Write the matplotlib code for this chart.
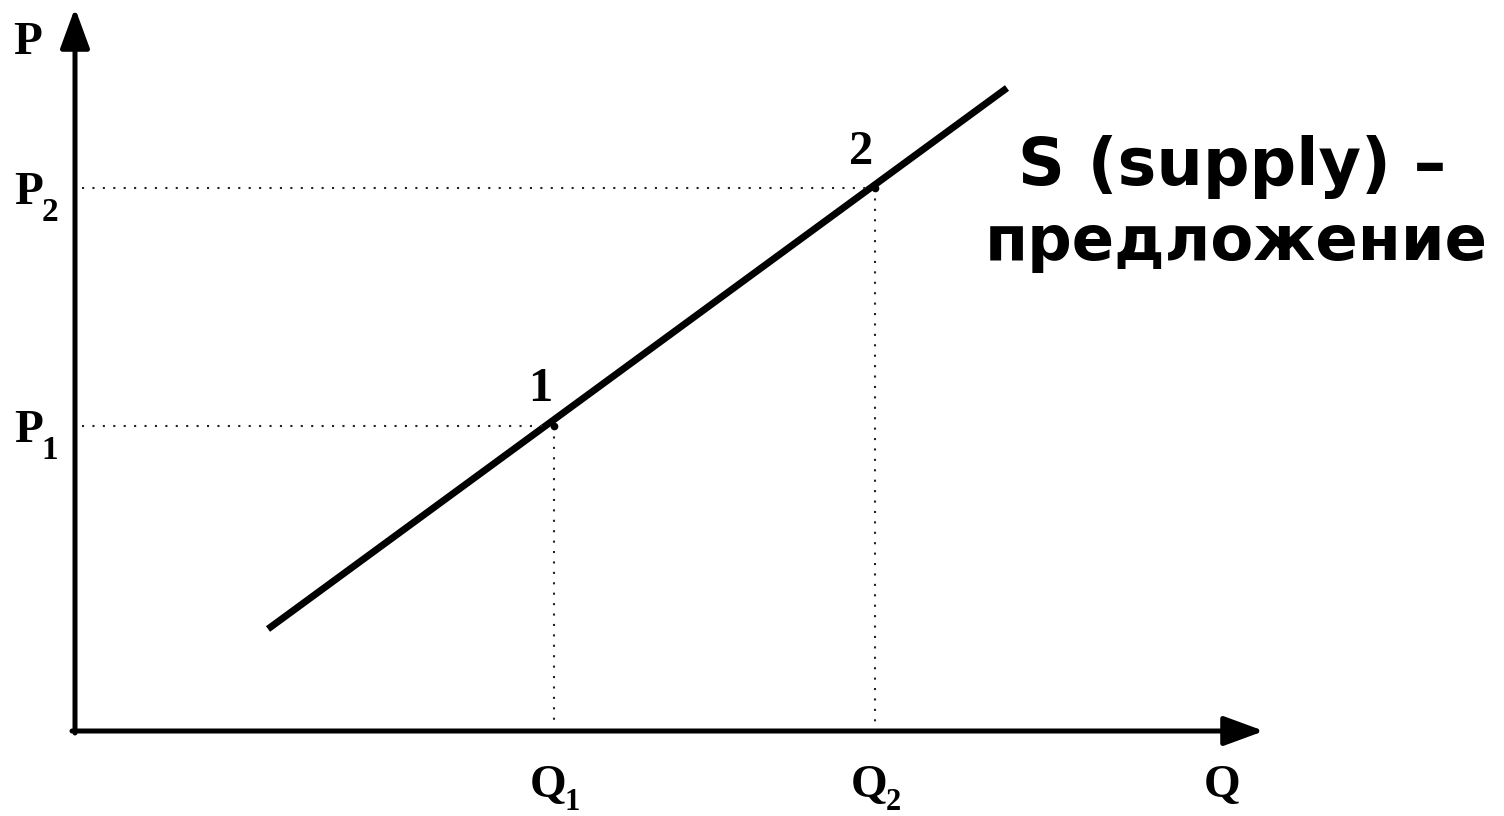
import matplotlib
matplotlib.use("Agg")
import matplotlib.pyplot as plt

# Supply curve diagram, coordinates in "px-like" units with origin at the axes corner
supply_q = [193, 932]
supply_p = [102, 643]

point_names = ["1", "2"]
point_q = [479, 800]
point_p = [305, 543]

q_labels = ["Q", "Q"]
q_subs = ["1", "2"]
p_labels = ["P", "P"]
p_subs = ["1", "2"]

supply_text = ["S (supply) –", "предложение"]

serif = "Liberation Serif"
sans = "DejaVu Sans"

fig = plt.figure(figsize=(15.04, 8.16), dpi=100)
ax = fig.add_axes([0, 0, 1, 1])
ax.set_xlim(-75, 1429)
ax.set_ylim(-85, 731)
ax.axis("off")

# axes with arrows
arrow_style = "-|>,head_length=2.45,head_width=0.9"
ax.annotate("", xy=(1189, 0), xytext=(-3, 0),
            arrowprops=dict(arrowstyle=arrow_style, color="black", lw=3.6,
                            mutation_scale=10, shrinkA=0, shrinkB=0))
ax.annotate("", xy=(0, 723), xytext=(0, -2),
            arrowprops=dict(arrowstyle=arrow_style, color="black", lw=3.6,
                            mutation_scale=10, shrinkA=0, shrinkB=0))

# supply line
ax.plot(supply_q, supply_p, color="black", lw=5, solid_capstyle="butt")

# dotted guides and points
for q, p in zip(point_q, point_p):
    ax.plot([7, q], [p, p], color="#222222", lw=1.5, linestyle=(0, (1, 4)))
    ax.plot([q, q], [p, 9], color="#222222", lw=1.5, linestyle=(0, (1, 4)))
    ax.plot(q, p, "o", color="black", ms=4.5)

# point numbers
ax.text(465, 330, point_names[0], fontfamily=serif, fontweight="bold",
        fontsize=35, ha="center", va="baseline")
ax.text(786, 567, point_names[1], fontfamily=serif, fontweight="bold",
        fontsize=35, ha="center", va="baseline")

# axis titles
ax.text(-47, 677, "P", fontfamily=serif, fontweight="bold", fontsize=34,
        ha="center", va="baseline")
ax.text(1147, -66, "Q", fontfamily=serif, fontweight="bold", fontsize=34,
        ha="center", va="baseline")

# P1, P2
for p, lab, sub in zip(point_p, p_labels, p_subs):
    ax.text(-46, p - 16, lab, fontfamily=serif, fontweight="bold", fontsize=34,
            ha="center", va="baseline")
    ax.text(-25, p - 33, sub, fontfamily=serif, fontweight="bold", fontsize=24,
            ha="center", va="baseline")

# Q1, Q2
for q, lab, sub in zip(point_q, q_labels, q_subs):
    ax.text(q - 6, -66, lab, fontfamily=serif, fontweight="bold", fontsize=34,
            ha="center", va="baseline")
    ax.text(q + 18, -79, sub, fontfamily=serif, fontweight="bold", fontsize=22,
            ha="center", va="baseline")

# supply caption
ax.text(1157, 546, supply_text[0], fontfamily=sans, fontweight="bold",
        fontsize=47, ha="center", va="baseline")
ax.text(1161, 471, supply_text[1], fontfamily=sans, fontweight="bold",
        fontsize=45, ha="center", va="baseline")

fig.savefig("out.png", dpi=100)
